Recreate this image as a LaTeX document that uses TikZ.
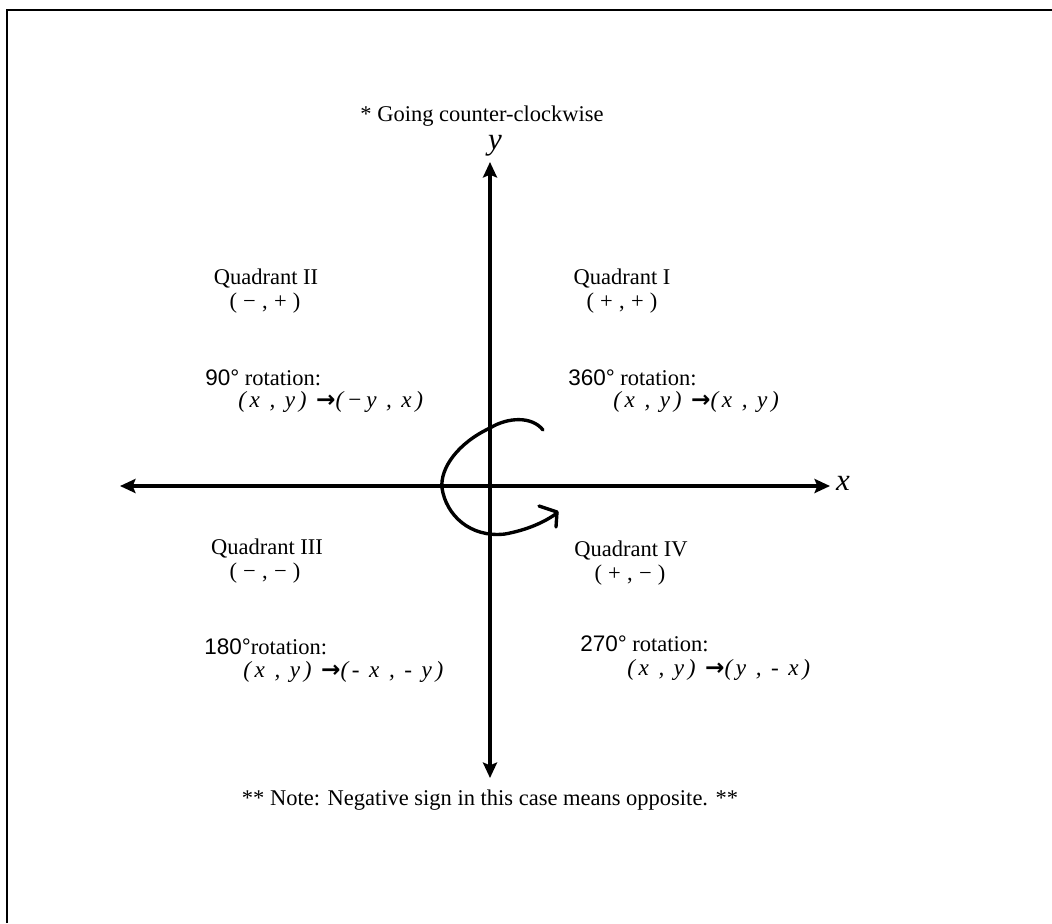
\documentclass[tikz,border=0pt]{standalone}
\usepackage{fontspec}
\setmainfont{Liberation Serif}
\newfontfamily\degfont{Liberation Sans}
\newfontfamily\arrowfont{DejaVu Sans}
\newfontfamily\mapfont{Liberation Serif}[LetterSpace=16]
\usetikzlibrary{arrows.meta}

\newcommand{\rotdeg}[1]{{\degfont #1\textdegree}}
\newcommand{\maparrow}{{\arrowfont\bfseries →}}

\begin{document}
\begin{tikzpicture}[x=0.025cm,y=-0.025cm,font=\fontsize{16}{19}\selectfont]
  \tikzset{
    axis/.style={line width=2.4pt,{Stealth[length=11pt,width=10pt,inset=2pt]}-{Stealth[length=11pt,width=10pt,inset=2pt]}},
    axislabel/.style={font=\fontsize{22}{26}\selectfont\itshape,inner sep=0pt},
    quadlabel/.style={inner sep=0pt,align=center},
    rotlabel/.style={anchor=west,inner sep=0pt},
    maplabel/.style={anchor=west,inner sep=0pt,font=\fontsize{16.5}{19}\mapfont\itshape},
    spin/.style={line width=2.4pt,line cap=round,line join=round},
  }

  \path[use as bounding box] (0,0) rectangle (1052,923);
  \draw[line width=2pt] (7,923) -- (7,10) -- (1052,10);

  % axes
  \coordinate (xneg) at (120,486);
  \coordinate (xpos) at (830,486);
  \coordinate (yneg) at (490,778);
  \coordinate (ypos) at (490,162);
  \draw[axis] (xneg) -- (xpos);
  \draw[axis] (yneg) -- (ypos);
  \node[axislabel] (xlab) at (843,483) {x};
  \node[axislabel] (ylab) at (495,146) {y};

  \node[inner sep=0pt] (note1) at (482,116) {* Going counter-clockwise};
  \node[inner sep=0pt] (note2) at (490,800) {** Note: Negative sign in this case means opposite. **};

  % quadrants
  \node[quadlabel] (q1) at (622,279) {Quadrant I};
  \node[quadlabel] (q1s) at (622,303) {(\;+\;,\;+\;)};
  \node[quadlabel] (q2) at (266,279) {Quadrant II};
  \node[quadlabel] (q2s) at (265,303) {(\;−\;,\;+\;)};
  \node[quadlabel] (q3) at (267,549) {Quadrant III};
  \node[quadlabel] (q3s) at (265,573) {(\;−\;,\;−\;)};
  \node[quadlabel] (q4) at (631,551) {Quadrant IV};
  \node[quadlabel] (q4s) at (630,575) {(\;+\;,\;−\;)};

  % rotation rules
  \node[rotlabel] (r90) at (205,378) {\rotdeg{90} rotation:};
  \node[maplabel] (m90) at (238,402) {(x , y) \maparrow(−y , x)};
  \node[rotlabel] (r360) at (568,378) {\rotdeg{360} rotation:};
  \node[maplabel] (m360) at (613,402) {(x , y) \maparrow(x , y)};
  \node[rotlabel] (r180) at (204,647) {\rotdeg{180}rotation:};
  \node[maplabel] (m180) at (243,672) {(x , y) \maparrow(- x , - y)};
  \node[rotlabel] (r270) at (580,644) {\rotdeg{270} rotation:};
  \node[maplabel] (m270) at (627,670) {(x , y) \maparrow(y , - x)};

  % hand-drawn turn
  \draw[spin] (543,430) .. controls (532,416) and (508,417) .. (490,428)
    .. controls (458,443) and (440,468) .. (442,488)
    .. controls (446,515) and (470,538) .. (505,534)
    .. controls (527,530) and (545,522) .. (557,513);
  \draw[spin] (539,506) -- (557,512) -- (556,527);
\end{tikzpicture}
\end{document}
